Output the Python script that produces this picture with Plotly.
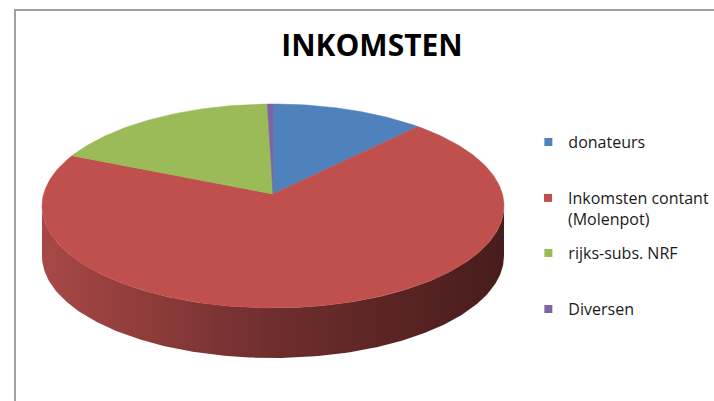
import numpy as np
import plotly.graph_objects as go

# ---- data ----
categories = ["donateurs", "Inkomsten contant<br>(Molenpot)", "rijks-subs. NRF", "Diversen"]
values = [10.8, 72.4, 16.4, 0.4]
colors = ["#4f81bd", "#c0504d", "#9bbb59", "#8064a2"]
wall_scales = [
    [[0, "#3c5f8c"], [1, "#1f3350"]],
    [[0, "#a84846"], [0.5, "#6e2e2d"], [1, "#481c1c"]],
    [[0, "#738a42"], [1, "#3e4c22"]],
    [[0, "#5e4a78"], [1, "#33284a"]],
]
legend_y_px = [142, 208.5, 253, 309]   # vertical centre of each legend entry

# ---- geometry (pixel-like coordinate system) ----
W, H = 714, 401
cx, cy = 273, 206          # ellipse centre
apex_y = 194               # perspective apex of the slices
a, b = 231, 102            # semi axes of the top face
depth = 50                 # thickness of the pie

fig = go.Figure()

total = sum(values)
fracs = np.cumsum([0] + values) / total
starts = np.pi / 2 - 2 * np.pi * fracs[:-1]
ends = np.pi / 2 - 2 * np.pi * fracs[1:]

def ell(t, dy=0):
    return cx + a * np.cos(t), cy - b * np.sin(t) + dy

# side walls (front half: angles in [pi, 2pi] mod 2pi)
for i in range(len(values)):
    t0, t1 = ends[i], starts[i]
    for k in range(-2, 2):
        lo, hi = np.pi + 2 * np.pi * k, 2 * np.pi + 2 * np.pi * k
        s, e = max(t0, lo), min(t1, hi)
        if e <= s:
            continue
        t = np.linspace(s, e, 200)
        xt, yt = ell(t)
        xb, yb = ell(t[::-1], depth)
        xs = np.concatenate([xt, xb, xt[:1]])
        ys = np.concatenate([yt, yb, yt[:1]])
        fig.add_trace(go.Scatter(
            x=xs, y=ys, mode="lines", fill="toself",
            line=dict(width=0),
            fillgradient=dict(type="horizontal", colorscale=wall_scales[i],
                              start=cx - a, stop=cx + a),
            hoverinfo="skip", showlegend=False))

# top face slices
for i in range(len(values)):
    t = np.linspace(starts[i], ends[i], max(3, int(400 * values[i] / total)))
    xa, ya = ell(t)
    xs = np.concatenate([[cx], xa, [cx]])
    ys = np.concatenate([[apex_y], ya, [apex_y]])
    fig.add_trace(go.Scatter(
        x=xs, y=ys, mode="lines", fill="toself",
        line=dict(width=0.5, color=colors[i]), fillcolor=colors[i],
        hoverinfo="skip", showlegend=False))

# legend entries, one legend per entry so each can sit where the original puts it
legend_layouts = {}
for i, name in enumerate(categories):
    lname = "legend" if i == 0 else f"legend{i + 1}"
    fig.add_trace(go.Scatter(
        x=[None], y=[None], mode="markers", name=name, legend=lname,
        marker=dict(symbol="square", size=8, color=colors[i])))
    legend_layouts[lname] = dict(
        x=0.740, y=1 - legend_y_px[i] / H, xanchor="left", yanchor="middle",
        font=dict(family="Open Sans", size=16, color="#1a1a1a"),
        itemwidth=30, valign="top", bgcolor="rgba(0,0,0,0)")

fig.update_layout(
    width=W, height=H,
    margin=dict(l=0, r=0, t=0, b=0),
    paper_bgcolor="white", plot_bgcolor="white",
    xaxis=dict(range=[0, W], visible=False, fixedrange=True),
    yaxis=dict(range=[H, 0], visible=False, fixedrange=True),
    title=dict(text="<b>INKOMSTEN</b>", x=372 / W, xanchor="center",
               y=1 - 45 / H, yanchor="middle",
               font=dict(family="Open Sans", size=30, color="#000000")),
    shapes=[dict(type="rect", xref="x", yref="y", x0=15, y0=10, x1=W + 10, y1=H + 10,
                 line=dict(color="#a0a0a0", width=2))],
    showlegend=True,
    hovermode=False,
    **legend_layouts,
)

fig.write_html("out.html", config={"displayModeBar": False, "staticPlot": True},
               post_script="document.body.style.margin='0';document.body.style.overflow='hidden';")
